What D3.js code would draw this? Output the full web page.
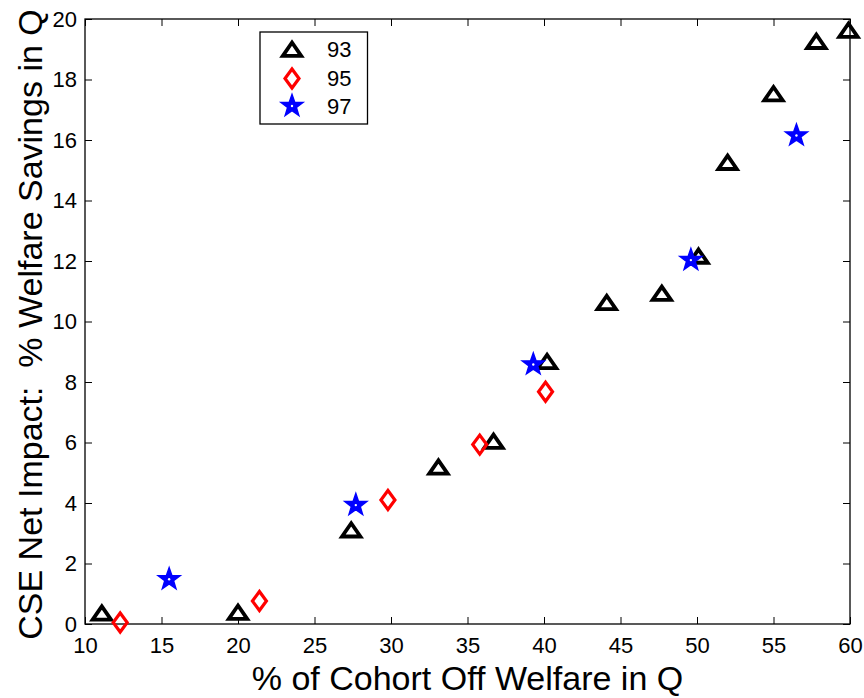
<!DOCTYPE html>
<html>
<head>
<meta charset="utf-8">
<script src="https://cdn.jsdelivr.net/npm/d3@7"></script>
<style>
  html, body { margin: 0; padding: 0; background: #fff; }
  svg { display: block; }
  text { font-family: "Liberation Sans", Arial, sans-serif; fill: #000; }
</style>
</head>
<body>
<svg id="chart" width="864" height="698"></svg>
<script>
// ---- data ----
const series93x = [11.1, 20.0, 27.4, 33.1, 36.7, 40.2, 44.1, 47.7, 50.1, 52.0, 55.0, 57.8, 59.9];
const series93y = [0.35, 0.38, 3.1, 5.18, 6.03, 8.67, 10.62, 10.92, 12.15, 15.25, 17.52, 19.25, 19.62];
const series95x = [12.3, 21.4, 29.8, 35.8, 40.1];
const series95y = [0.05, 0.76, 4.1, 5.93, 7.68];
const series97x = [15.5, 27.7, 39.3, 49.6, 56.5];
const series97y = [1.48, 3.93, 8.58, 12.03, 16.15];
const seriesNames = ["93", "95", "97"];
const xTicks = [10, 15, 20, 25, 30, 35, 40, 45, 50, 55, 60];
const yTicks = [0, 2, 4, 6, 8, 10, 12, 14, 16, 18, 20];
const xTitle = "% of Cohort Off Welfare in Q";
const yTitle = "CSE Net Impact:  % Welfare Savings in Q";

// ---- layout ----
const L = 85, R = 850, T = 19, B = 624;
const svg = d3.select("#chart");
const x = d3.scaleLinear().domain([10, 60]).range([L, R]);
const y = d3.scaleLinear().domain([0, 20]).range([B, T]);

// frame
svg.append("rect").attr("x", L).attr("y", T).attr("width", R - L).attr("height", B - T)
  .attr("fill", "none").attr("stroke", "#000").attr("stroke-width", 1.3);

const tickLen = 7;
const fs = 22;
const axisStyle = g => {
  g.select(".domain").remove();
  g.selectAll(".tick line").attr("stroke", "#000").attr("stroke-width", 1);
  g.selectAll(".tick text").style("font-size", fs + "px").style("font-family", "'Liberation Sans', Arial, sans-serif").attr("fill", "#000");
};
// bottom
svg.append("g").attr("transform", `translate(0,${B})`)
  .call(d3.axisBottom(x).tickValues(xTicks).tickFormat(d3.format("d")).tickSizeInner(-tickLen).tickPadding(14))
  .call(axisStyle)
  .call(g => g.selectAll(".tick text").attr("dy", "0.71em").attr("y", 13));
// top
svg.append("g").attr("transform", `translate(0,${T})`)
  .call(d3.axisTop(x).tickValues(xTicks).tickFormat("").tickSizeInner(-tickLen))
  .call(axisStyle);
// left
svg.append("g").attr("transform", `translate(${L},0)`)
  .call(d3.axisLeft(y).tickValues(yTicks).tickFormat(d3.format("d")).tickSizeInner(-tickLen).tickPadding(8))
  .call(axisStyle)
  .call(g => g.selectAll(".tick text").attr("x", -8));
// right
svg.append("g").attr("transform", `translate(${R},0)`)
  .call(d3.axisRight(y).tickValues(yTicks).tickFormat("").tickSizeInner(-tickLen))
  .call(axisStyle);

// titles
svg.append("text").attr("x", (L + R) / 2).attr("y", 690).attr("text-anchor", "middle")
  .style("font-size", "34px").text(xTitle);
svg.append("text").attr("transform", `translate(42,${(T + B) / 2 + 3}) rotate(-90)`)
  .attr("text-anchor", "middle").style("font-size", "34px").style("white-space", "pre").text(yTitle);

// marker shapes
const triPath = "M0,-7L9.2,6.3L-9.2,6.3Z";
const diaPath = "M0,-9.5L7,0L0,9.5L-7,0Z";
function starPath(ro, ri) {
  const pts = [];
  for (let i = 0; i < 10; i++) {
    const r = i % 2 === 0 ? ro : ri;
    const a = -Math.PI / 2 + i * Math.PI / 5;
    pts.push([r * Math.cos(a), r * Math.sin(a)]);
  }
  return "M" + pts.map(p => p[0].toFixed(2) + "," + p[1].toFixed(2)).join("L") + "Z";
}
const stPath = starPath(11.5, 4.6);

const drawTri = (g) => g.attr("d", triPath).attr("fill", "none").attr("stroke", "#000").attr("stroke-width", 3.8).attr("stroke-linejoin", "miter");
const drawDia = (g) => g.attr("d", diaPath).attr("fill", "none").attr("stroke", "#ff0000").attr("stroke-width", 3.2).attr("stroke-linejoin", "miter");
const drawStar = (g) => g.attr("d", stPath).attr("fill", "#0000ff").attr("stroke", "#0000ff").attr("stroke-width", 1.5).attr("stroke-linejoin", "miter");

const d93 = series93x.map((v, i) => [v, series93y[i]]);
const d95 = series95x.map((v, i) => [v, series95y[i]]);
const d97 = series97x.map((v, i) => [v, series97y[i]]);

svg.append("g").selectAll("path").data(d93).join("path")
  .attr("transform", d => `translate(${x(d[0])},${y(d[1])})`).call(drawTri);
svg.append("g").selectAll("path").data(d95).join("path")
  .attr("transform", d => `translate(${x(d[0])},${y(d[1])})`).call(drawDia);
const sg = svg.append("g").selectAll("g").data(d97).join("g")
  .attr("transform", d => `translate(${x(d[0])},${y(d[1])})`);
sg.append("path").call(drawStar);
sg.append("circle").attr("r", 1.2).attr("fill", "#fff");

// legend
const lg = svg.append("g");
lg.append("rect").attr("x", 260).attr("y", 32).attr("width", 107.5).attr("height", 92)
  .attr("fill", "#fff").attr("stroke", "#000").attr("stroke-width", 1.3);
const rowsY = [49.5, 78.5, 106];
const drawers = [drawTri, drawDia, drawStar];
seriesNames.forEach((name, i) => {
  const row = lg.append("g").attr("transform", `translate(292,${rowsY[i]})`);
  row.append("path").call(drawers[i]);
  if (i === 2) row.append("circle").attr("r", 1.2).attr("fill", "#fff");
  lg.append("text").attr("x", 327).attr("y", rowsY[i]).attr("dy", "0.36em")
    .style("font-size", "22px").text(name);
});
</script>
</body>
</html>
